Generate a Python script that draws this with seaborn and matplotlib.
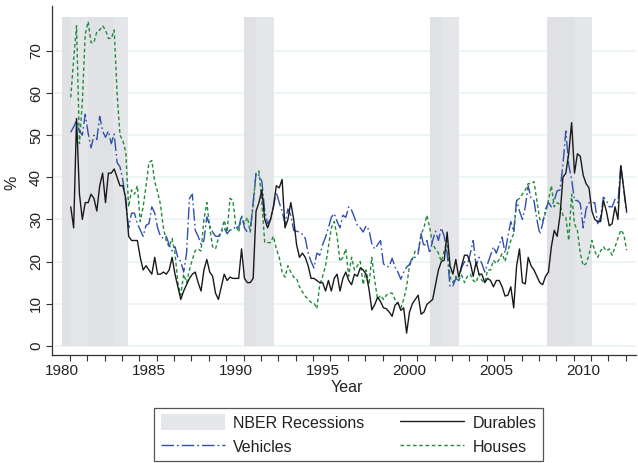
import numpy as np
import pandas as pd
import matplotlib
matplotlib.use("Agg")
import matplotlib.pyplot as plt
from matplotlib.patches import Patch
from matplotlib.lines import Line2D
import seaborn as sns

# Bi-monthly shares (%), July 1980 through July 2012
durables = [
    33, 28, 54,
    36, 30, 34, 34, 36, 35,
    32, 38, 41, 34, 41, 41,
    42, 40, 38, 38, 35, 26,
    25, 25, 25, 21, 18, 19,
    18, 17, 21, 17, 17, 17.5,
    17, 18, 21, 17, 14, 11,
    13, 14.5, 16, 17, 17.5, 15,
    13, 18, 20.5, 17.5, 16.5, 12.5,
    11, 14, 17, 15.5, 16.3, 16,
    16, 16, 23, 16, 15, 15,
    16, 32, 34, 37, 30, 28,
    30, 33, 38, 37.5, 39.5, 28,
    30, 34, 30, 24, 21, 22,
    21, 19, 16, 16, 15.5, 15,
    15, 13, 15.5, 13, 16, 17,
    13, 16, 17.5, 15.5, 14.5, 17,
    16.5, 18.5, 18, 17, 13.5, 8.5,
    9.8, 11.5, 10.5, 9, 8.8, 8,
    7, 9.6, 10.3, 8.4, 9, 3,
    8, 10, 11, 12, 7.5, 8,
    9.8, 10.4, 11, 14.5, 18, 20,
    20.3, 27, 19, 17, 20.5, 16.3,
    19, 21.5, 21.5, 19.7, 16.5, 19.8,
    17, 17, 15, 16, 15.5, 14,
    15.5, 15.5, 14, 11.8, 12, 14,
    9, 19, 23, 15, 14.7, 21,
    19, 18, 16.5, 15, 14.5, 16.5,
    17.5, 23.5, 27.4, 26, 31, 40,
    41, 45.6, 53, 41, 45.6, 45,
    40.5, 38.5, 37.5, 32, 30, 29.5,
    29.5, 34.5, 32, 28.5, 29, 33,
    30, 42.8, 37.5, 32,
]

vehicles = [
    50.7, 52, 53.5,
    51, 50, 55, 50.5, 47, 50,
    49, 54.5, 51, 49.5, 51, 48,
    50.3, 43.5, 42.5, 39.3, 34, 28,
    31.5, 31.5, 29, 27.5, 26, 28.6,
    29, 33, 31.5, 28, 26, 25.5,
    26, 24, 22.5, 23.5, 21, 20,
    17.5, 22, 35, 36, 27.4, 26,
    24, 25, 30.6, 28.6, 27, 26,
    26, 27, 28, 26.6, 27.5, 27.5,
    28.5, 28, 31, 28, 27, 27.4,
    34, 41, 40.5, 39, 32, 29,
    30, 33, 36.5, 34, 32, 29,
    32.5, 31, 27.4, 27.2, 27, 26.5,
    25.5, 22, 20, 18.5, 22, 21.5,
    24, 25.8, 28, 30.5, 31.4, 29.5,
    28, 31, 30.5, 33, 32.2, 30.5,
    28.5, 28, 27, 28.5, 27.5, 24.2,
    23, 24, 25, 19.5, 18.8, 18.8,
    20.8, 18.7, 17.5, 15.8, 17.5, 18.7,
    19.3, 21, 21, 21.9, 26.6, 23.5,
    25, 22, 25, 27.2, 25, 28,
    26, 22, 14, 14.2, 16, 15.5,
    18.5, 20, 19, 21.9, 25, 19,
    21, 19.5, 17.5, 19.5, 21.5, 23.5,
    22, 24, 25.8, 22, 26, 29.5,
    27, 34.5, 32, 30, 33, 38,
    35, 34.5, 30, 26.5, 29, 32.5,
    34, 33, 34.5, 36.8, 37, 43,
    51, 43, 39.5, 34.5, 34.5, 33.8,
    28, 32.5, 34, 34, 34, 29,
    30.5, 35.3, 34.5, 33, 33, 34.8,
    34, 43, 37, 31.5,
]

houses = [
    59, 68, 76,
    48, 58, 74, 77, 72, 72,
    74.6, 75, 76, 75, 73, 73,
    75, 60, 50, 48.7, 46, 33,
    37, 36, 38, 29.5, 33, 38,
    43.5, 44, 39, 36.5, 33.5, 28,
    24.8, 23.5, 25.5, 22, 15, 12,
    17, 15, 18, 20.5, 22.6, 23,
    22.5, 30, 34, 28, 23.5, 23,
    25.5, 27, 29.8, 27, 35, 34.5,
    28.5, 27, 30.6, 29, 30.5, 27,
    33.5, 41, 41.5, 34, 24.5, 24.5,
    24.5, 26, 23, 21, 17.5, 16.3,
    19, 17.5, 16.3, 16, 14, 12.8,
    11.8, 11, 10.3, 10.2, 8.8, 14.5,
    16.5, 19, 23.5, 28, 29.5, 26,
    20, 21, 23, 16.5, 21, 18,
    19, 20, 14.5, 18, 14.5, 21,
    15.5, 11, 12, 11, 12, 12.5,
    12.5, 11, 10, 9, 11, 14,
    19, 20.5, 22.5, 22.5, 26.5, 28,
    31, 28, 24, 23, 22, 20,
    22.5, 25, 16.3, 15, 16.5, 15.5,
    16.8, 15, 16.5, 17, 15.5, 15,
    17, 15.5, 15, 18, 18, 20.3,
    19.5, 20.5, 21.9, 20, 22.5, 25,
    26.6, 34.5, 35, 36, 37, 38.5,
    38.5, 39, 34.5, 30, 29.5, 31.5,
    34.5, 38, 33, 34, 33.5, 31,
    30.5, 25, 36, 29, 27.4, 21.9,
    19, 19.5, 21.5, 25, 22.5, 21,
    22.5, 23.5, 22.5, 23, 21.5, 23.5,
    25.5, 27.5, 26.5, 22.7,
]

# NBER business-cycle recessions (peak, trough) and the shaded window after each
nber_start = [1980.0, 1981.5, 1990.5, 2001.17, 2007.92]
nber_end = [1980.5, 1982.92, 1991.17, 2001.83, 2009.5]
window_start = [1980.0, 1990.5, 2001.17, 2007.92]
window_end = [1983.78, 1992.18, 2002.83, 2010.5]

year_ticks = [1980, 1985, 1990, 1995, 2000, 2005, 2010]
pct_ticks = [0, 10, 20, 30, 40, 50, 60, 70]

sns.set_theme(style="white")
plt.rcParams["font.family"] = ["Liberation Sans", "DejaVu Sans"]

dates = pd.date_range("1980-07-01", periods=len(durables), freq="2MS")
df = pd.DataFrame({
    "year": dates.year + (dates.month - 1) / 12,
    "Durables": durables,
    "Vehicles": vehicles,
    "Houses": houses,
})

BAND = "#e5e6e9"
BAND_DARK = "#e0e1e4"
BLUE = "#3150ad"
GREEN = "#1f8c3b"
BLACK = "#1a1a1a"
AXIS = "#333333"
SHADE_TOP = 78
veh_ls = (0, (9, 2.2, 1.2, 2.2))
hou_ls = (0, (2.6, 1.9))

fig = plt.figure(figsize=(6.38, 4.63), dpi=100)
ax = fig.add_axes([52 / 638, 108 / 463, 584 / 638, 349 / 463])

ax.set_xlim(1979.42, 2013.04)
ax.set_ylim(-2.2, 80.7)

ax.yaxis.grid(True, color="#eaf2f3", linewidth=1.1, zorder=0)
ax.xaxis.grid(False)
ax.set_axisbelow(True)

ax.bar(window_start, [SHADE_TOP] * len(window_start),
       width=np.subtract(window_end, window_start), align="edge",
       color=BAND, linewidth=0, zorder=1)
ax.bar(nber_start, [SHADE_TOP] * len(nber_start),
       width=np.subtract(nber_end, nber_start), align="edge",
       color=BAND_DARK, linewidth=0, zorder=1)

sns.lineplot(data=df, x="year", y="Houses", ax=ax, color=GREEN,
             linewidth=1.0, linestyle=hou_ls, zorder=3)
sns.lineplot(data=df, x="year", y="Vehicles", ax=ax, color=BLUE,
             linewidth=1.0, linestyle=veh_ls, zorder=4)
sns.lineplot(data=df, x="year", y="Durables", ax=ax, color=BLACK,
             linewidth=1.0, zorder=5)

for side in ("top", "right"):
    ax.spines[side].set_visible(False)
for side in ("left", "bottom"):
    ax.spines[side].set_color(AXIS)
    ax.spines[side].set_linewidth(0.9)

ax.set_xticks(year_ticks)
ax.set_xticklabels([str(y) for y in year_ticks])
ax.set_xticks(np.arange(1980, 2013) + 0.45, minor=True)
ax.tick_params(axis="x", which="major", length=0, pad=6.5,
               labelsize=11, labelcolor="#222222")
ax.tick_params(axis="x", which="minor", length=4.5, width=0.8,
               color=AXIS, direction="out", bottom=True)

ax.set_yticks(pct_ticks)
ax.set_yticklabels([str(v) for v in pct_ticks], rotation=90, va="center")
ax.tick_params(axis="y", which="major", length=4.5, width=0.8, color=AXIS,
               pad=2, labelsize=11, labelcolor="#222222", left=True)

ax.set_xlabel("Year", fontsize=11.5, color="#222222")
ax.xaxis.label.set_va("center")
ax.xaxis.set_label_coords((347 - 52) / 584, (355 - 388) / 349)
ax.set_ylabel("%", fontsize=11.5, color="#222222")
ax.yaxis.label.set_va("center")
ax.yaxis.label.set_ha("center")
ax.yaxis.set_label_coords((12 - 52) / 584, (355 - 183) / 349)

handles = [
    Patch(facecolor=BAND, edgecolor="none"),
    Line2D([], [], color=BLUE, linewidth=1.0, linestyle=veh_ls),
    Line2D([], [], color=BLACK, linewidth=1.0),
    Line2D([], [], color=GREEN, linewidth=1.0, linestyle=hou_ls),
]
labels = ["NBER Recessions", "Vehicles", "Durables", "Houses"]
leg = fig.legend(handles, labels, ncol=2, loc="center",
                 bbox_to_anchor=(348.5 / 638, 1 - 434.5 / 463),
                 frameon=True, fancybox=False, edgecolor="#555555",
                 framealpha=1, fontsize=11.5, handlelength=4.0,
                 handleheight=1.1, handletextpad=0.5, columnspacing=2.3,
                 labelspacing=0.5, borderpad=0.4)
leg.get_frame().set_linewidth(0.9)
for t in leg.get_texts():
    t.set_color("#222222")

fig.savefig("out.png", dpi=100)
